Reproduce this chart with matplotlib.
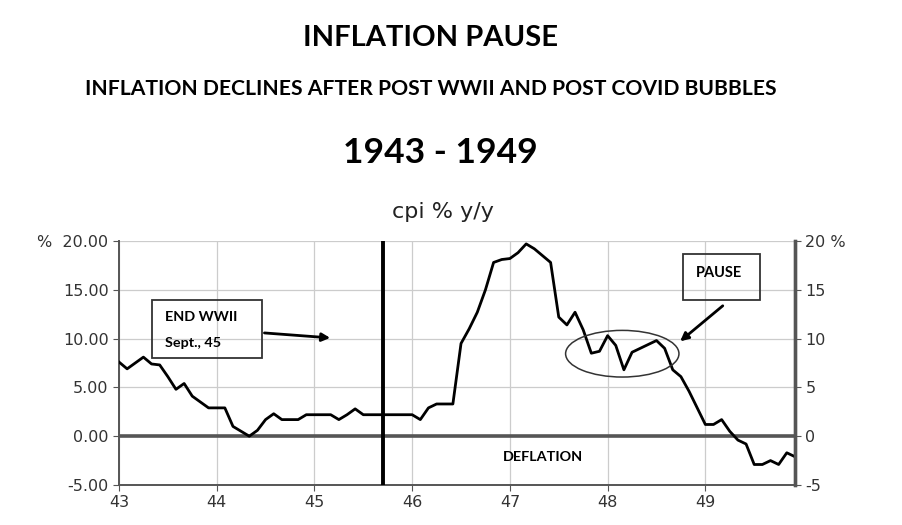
import numpy as np
import matplotlib
matplotlib.use("Agg")
import matplotlib.pyplot as plt
from matplotlib.patches import Rectangle, Ellipse

# monthly cpi % y/y, Jan 1943 .. Dec 1949
cpi = [7.6, 6.9, 7.5, 8.1, 7.4, 7.3, 6.1, 4.8, 5.4, 4.1, 3.5, 2.9,
       2.9, 2.9, 1.0, 0.5, 0.0, 0.6, 1.7, 2.3, 1.7, 1.7, 1.7, 2.2,
       2.2, 2.2, 2.2, 1.7, 2.2, 2.8, 2.2, 2.2, 2.2, 2.2, 2.2, 2.2,
       2.2, 1.7, 2.9, 3.3, 3.3, 3.3, 9.5, 11.0, 12.7, 15.0, 17.8, 18.1,
       18.2, 18.8, 19.7, 19.2, 18.5, 17.8, 12.2, 11.4, 12.7, 10.9, 8.5, 8.7,
       10.3, 9.3, 6.8, 8.6, 9.0, 9.4, 9.8, 9.0, 6.8, 6.1, 4.6, 2.9,
       1.2, 1.2, 1.7, 0.5, -0.4, -0.8, -2.9, -2.9, -2.5, -2.9, -1.7, -2.1]
years = 43 + np.arange(len(cpi)) / 12.0

xticks = [43, 44, 45, 46, 47, 48, 49]
yticks = [-5, 0, 5, 10, 15, 20]
left_labels = ["-5.00", "0.00", "5.00", "10.00", "15.00", "%  20.00"]
right_labels = ["-5", "0", "5", "10", "15", "20 %"]
war_end = 45.7

fig = plt.figure(figsize=(9.02, 5.25), dpi=100)
tfont = ["Lato", "DejaVu Sans"]
fig.text(0.477, 0.928, "INFLATION PAUSE", ha="center", va="center",
         fontsize=21, fontweight="bold", family=tfont)
fig.text(0.478, 0.830, "INFLATION DECLINES AFTER POST WWII AND POST COVID BUBBLES",
         ha="center", va="center", fontsize=15.2, fontweight="bold", family=tfont)
fig.text(0.488, 0.708, "1943 - 1949", ha="center", va="center",
         fontsize=25.5, fontweight="bold", family=tfont)
fig.text(0.4915, 0.596, "cpi % y/y", ha="center", va="center",
         fontsize=16, color="#222222")

ax = fig.add_axes((0.1319, 0.0762, 0.7494, 0.4648))
gray = "#555555"
ax.plot(years, cpi, color="black", lw=2.0, zorder=5)
ax.set_xlim(43, 43 + (len(cpi) - 1) / 12.0)
ax.set_ylim(-5, 20)
ax.set_xticks(xticks)
ax.set_yticks(yticks)
ax.set_yticklabels(left_labels)
ax.grid(True, color="#cccccc", lw=0.9)
ax.axhline(0, color="#555555", lw=2.6, zorder=4)
ax.axvline(war_end, color="black", lw=2.8, zorder=6)

ax.spines["top"].set_visible(False)
for s in ["left", "bottom", "right"]:
    ax.spines[s].set_color(gray)
    ax.spines[s].set_linewidth(1.4)
ax.spines["right"].set_linewidth(2.4)
ax.tick_params(axis="both", colors=gray, labelcolor="#333333", labelsize=11.5, length=4)

ax2 = ax.twinx()
ax2.set_ylim(-5, 20)
ax2.set_yticks(yticks)
ax2.set_yticklabels(right_labels)
ax2.tick_params(axis="y", colors=gray, labelcolor="#333333", labelsize=11.5, length=4)
for s in ["top", "left", "bottom"]:
    ax2.spines[s].set_visible(False)
ax2.spines["right"].set_color(gray)
ax2.spines["right"].set_linewidth(2.4)

# annotations
afont = ["Lato", "DejaVu Sans"]
ax.add_patch(Rectangle((43.34, 8.0), 1.12, 5.95, fill=False, ec="#333333", lw=1.3, zorder=7))
ax.text(43.47, 12.2, "END WWII", fontsize=10.4, fontweight="bold", va="center", family=afont, zorder=8)
ax.text(43.47, 9.5, "Sept., 45", fontsize=10.4, fontweight="bold", va="center", family=afont, zorder=8)
ax.annotate("", xy=(45.19, 10.05), xytext=(44.46, 10.6),
            arrowprops=dict(arrowstyle="-|>", color="black", lw=2, mutation_scale=12), zorder=8)

ax.add_patch(Rectangle((48.77, 13.95), 0.79, 4.72, fill=False, ec="#333333", lw=1.3, zorder=7))
ax.text(49.14, 16.75, "PAUSE", fontsize=10.5, fontweight="bold", ha="center", va="center",
        family=afont, zorder=8)
ax.annotate("", xy=(48.72, 9.54), xytext=(49.2, 13.54),
            arrowprops=dict(arrowstyle="-|>", color="black", lw=2, mutation_scale=12), zorder=8)
ax.add_patch(Ellipse((48.15, 8.45), 1.16, 4.78, fill=False, ec="#333333", lw=1.1, zorder=7))

ax.text(47.34, -2.15, "DEFLATION", fontsize=10.4, fontweight="bold", ha="center", va="center",
        family=afont, zorder=8)

fig.savefig("out.png", dpi=100)
